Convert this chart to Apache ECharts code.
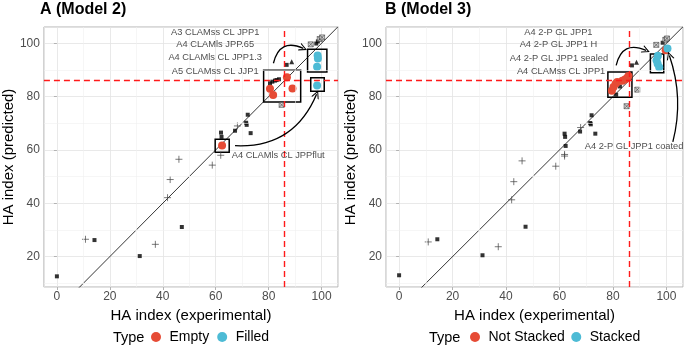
<!DOCTYPE html>
<html>
<head>
<meta charset="utf-8">
<script src="https://cdn.jsdelivr.net/npm/echarts@6/dist/echarts.min.js"></script>
<style>
  html, body { margin: 0; padding: 0; background: #fff; }
  #chart { width: 685px; height: 347px; }
</style>
</head>
<body>
<div id="chart"></div>
<script>
// ---- data ----
var threshold = 86;
var xTicks = [0, 20, 40, 60, 80, 100];
var minorTicks = [10, 30, 50, 70, 90];

// panel A (Model 2)
var aSquares = [[0,12.6],[14.2,26.2],[31.3,20.2],[47.2,31.1],[62.0,66.5],[62.2,64.9],[67.3,67.2],[72.1,73.2],[71.5,70.2],[71.7,69.4],[73.2,66.3],[86.8,91.9],[80.5,85.0],[81.4,85.6],[82.4,86.0],[83.0,86.2],[83.9,86.5],[98.0,99.9],[98.6,100.7]];
var aPlus = [[10.8,26.5],[37.2,24.6],[41.8,42.1],[42.8,48.9],[46.1,56.5],[58.7,54.3],[61.9,58.0],[68.2,69.0]];
var aTriangles = [[88.7,93.1]];
var aCrossed = [[84.9,76.9],[95.9,99.6],[99.3,101.6],[100.2,102.2]];
var aEmpty = [[62.4,61.7],[80.5,82.9],[81.7,80.6],[86.9,87.3],[89.0,83.0]];
var aFilled = [[98.5,95.4],[98.6,94.3],[98.3,91.2],[98.3,84.2]];
var aLabels = [[59.8,104.1,'A3 CLAMss CL JPP1'],[59.8,99.6,'A4 CLAMls JPP.65'],[59.8,94.6,'A4 CLAMls CL JPP1.3'],[59.8,89.6,'A5 CLAMss CL JJP1'],[83.6,57.9,'A4 CLAMls CL JPPflut']];
var aBoxes = [[59.8,64.0,65.1,59.1],[78.1,89.9,92.1,78.0],[94.7,97.8,102.0,89.2],[95.9,87.1,101.0,82.0]];
var aArrows = [[81.8,92.5,93.1,98.1,0.6],[67.3,61.6,98.1,80.9,-0.35]];

// panel B (Model 3)
var bSquares = [[0,13.0],[14.3,26.5],[31.2,20.5],[47.3,31.2],[61.9,66.1],[62.1,64.9],[62.3,61.5],[67.7,66.9],[72.0,73.0],[71.5,70.1],[71.7,69.6],[73.4,66.1],[87.1,91.7],[81.2,80.7],[82.6,83.8],[98.6,100.2]];
var bPlus = [[10.9,25.5],[37.1,23.7],[42.1,41.3],[42.9,48.1],[46.0,55.9],[58.6,53.9],[61.9,57.7],[61.9,58.3],[67.9,68.4]];
var bTriangles = [[88.8,92.9]];
var bCrossed = [[89.1,82.6],[85.1,76.4],[96.2,99.4],[99.6,101.3],[100.2,101.8]];
var bNotStacked = [[79.6,82.2],[80.2,83.6],[81.0,84.8],[81.6,85.5],[83.5,85.9],[84.5,86.4],[85.3,87.0],[85.8,87.7],[99.7,97.4]];
var bStacked = [[100.4,98.0],[96.8,95.3],[96.3,93.6],[96.7,92.3],[97.3,91.0]];
var bLabels = [[59.6,103.9,'A4 2-P GL JPP1'],[59.6,99.4,'A4 2-P GL JPP1 H'],[59.8,94.4,'A4 2-P GL JPP1 sealed'],[60.6,89.4,'A4 CLAMss CL JPP1'],[87.9,61.5,'A4 2-P GL JPP1 coated']];
var bBoxes = [[78.1,89.2,87.1,79.8],[94.0,96.0,99.0,88.9]];
var bArrows = [[81.2,91.7,92.4,97.3,0.6],[102.4,63.0,101.1,95.4,-0.15]];

var RED = '#E64B35', CYAN = '#4DBBD5';
var FONT = 'Liberation Sans, Arial, sans-serif';
var plusPath = 'path://M0,5L10,5M5,0L5,10';
var crossPath = 'path://M0,0L10,0L10,10L0,10Z M0,0L10,10 M10,0L0,10';
var chevron = 'path://M0,10L5,0L10,10L8.6,10L5,2.8L1.4,10Z';

var chart = echarts.init(document.getElementById('chart'));

function xAxisFor(i) {
    return {
        type: 'value', gridIndex: i, min: -4.9, max: 106.2,
        name: 'HA index (experimental)', nameLocation: 'middle', nameGap: 15,
        nameTextStyle: { fontSize: 15, color: '#000' },
        axisLine: { show: false },
        axisTick: { show: true, length: 3, lineStyle: { color: '#b3b3b3' } },
        axisLabel: { fontSize: 12, color: '#4d4d4d', margin: 4, showMinLabel: false, showMaxLabel: false },
        splitLine: { show: true, lineStyle: { color: '#e3e3e3', width: 0.8 } }
    };
}
function yAxisFor(i) {
    return {
        type: 'value', gridIndex: i, min: 8.6, max: 106.1,
        name: 'HA index (predicted)', nameLocation: 'middle', nameGap: 27,
        nameTextStyle: { fontSize: 15, color: '#000' },
        axisLine: { show: false },
        axisTick: { show: true, length: 3, lineStyle: { color: '#b3b3b3' } },
        axisLabel: { fontSize: 12, color: '#4d4d4d', margin: 4, showMinLabel: false, showMaxLabel: false },
        splitLine: { show: true, lineStyle: { color: '#e3e3e3', width: 0.8 } }
    };
}

function panelSeries(i, d) {
    var ax = { xAxisIndex: i, yAxisIndex: i };
    var guides = [];
    minorTicks.forEach(function (v) {
        guides.push({ xAxis: v, lineStyle: { color: '#f0f0f0', width: 0.6, type: 'solid' } });
        guides.push({ yAxis: v, lineStyle: { color: '#f0f0f0', width: 0.6, type: 'solid' } });
    });
    guides.push({ xAxis: threshold, lineStyle: { color: '#ff1a1a', width: 1.4, type: [6, 4] } });
    guides.push({ yAxis: threshold, lineStyle: { color: '#ff1a1a', width: 1.4, type: [6, 4] } });

    return [
        Object.assign({
            type: 'line', data: [], silent: true, z: 1,
            markLine: { silent: true, symbol: 'none', label: { show: false }, animation: false, data: guides }
        }, ax),
        Object.assign({
            type: 'line', data: [[-4.9,-4.9],[106.2,106.2]], showSymbol: false, silent: true, clip: true, z: 2,
            lineStyle: { color: '#000', width: 0.8 }
        }, ax),
        Object.assign({
            type: 'scatter', data: [], silent: true,
            markArea: { silent: true, itemStyle: { color: 'rgba(0,0,0,0)', borderColor: '#000', borderWidth: 1.5 },
                data: d.boxes.map(function (b) { return [{ coord: [b[0], b[1]] }, { coord: [b[2], b[3]] }]; }) }
        }, ax),
        Object.assign({ type: 'scatter', data: d.squares, symbol: 'rect', symbolSize: 4, itemStyle: { color: '#000' }, z: 3 }, ax),
        Object.assign({ type: 'scatter', data: d.plus, symbol: plusPath, symbolSize: 7, itemStyle: { color: 'none', borderColor: '#444', borderWidth: 0.9 }, z: 3 }, ax),
        Object.assign({ type: 'scatter', data: d.triangles, symbol: 'triangle', symbolSize: 5, itemStyle: { color: '#000' }, z: 3 }, ax),
        Object.assign({ type: 'scatter', data: d.crossed, symbol: crossPath, symbolSize: 5, itemStyle: { color: '#ccc', borderColor: '#333', borderWidth: 0.7 }, z: 3 }, ax),
        Object.assign({ type: 'scatter', name: d.names[0], data: d.red, symbol: 'circle', symbolSize: 8, itemStyle: { color: RED, opacity: 1 }, z: 4 }, ax),
        Object.assign({ type: 'scatter', name: d.names[1], data: d.cyan, symbol: 'circle', symbolSize: 8, itemStyle: { color: CYAN, opacity: 1 }, z: 4 }, ax),
        Object.assign({
            type: 'lines', coordinateSystem: 'cartesian2d', silent: true, z: 5,
            symbol: ['none', chevron], symbolSize: [0, 8],
            lineStyle: { color: '#000', width: 1.3, opacity: 1 },
            data: d.arrows.map(function (a) {
                return { coords: [[a[0], a[1]], [a[2], a[3]]], lineStyle: { curveness: a[4] } };
            })
        }, ax),
        Object.assign({
            type: 'scatter', data: d.labels, symbolSize: 0, silent: true, z: 6,
            label: { show: true, position: 'inside', fontSize: 9.3, color: '#1a1a1a',
                formatter: function (p) { return p.value[2]; } }
        }, ax)
    ];
}

var series = panelSeries(0, { squares: aSquares, plus: aPlus, triangles: aTriangles, crossed: aCrossed,
        red: aEmpty, cyan: aFilled, labels: aLabels, boxes: aBoxes, arrows: aArrows, names: ['Empty', 'Filled'] })
    .concat(panelSeries(1, { squares: bSquares, plus: bPlus, triangles: bTriangles, crossed: bCrossed,
        red: bNotStacked, cyan: bStacked, labels: bLabels, boxes: bBoxes, arrows: bArrows, names: ['Not Stacked', 'Stacked'] }));

option = {
    animation: false,
    backgroundColor: '#fff',
    textStyle: { fontFamily: FONT },
    title: [
        { text: 'A (Model 2)', left: 35, top: -3, textStyle: { fontSize: 16, fontWeight: 'bold', color: '#000' } },
        { text: 'B (Model 3)', left: 380, top: -3, textStyle: { fontSize: 16, fontWeight: 'bold', color: '#000' } }
    ],
    grid: [
        { left: 42, top: 27, width: 296, height: 260, show: true, borderColor: '#b3b3b3', borderWidth: 1 },
        { left: 386, top: 27, width: 297, height: 260, show: true, borderColor: '#b3b3b3', borderWidth: 1 }
    ],
    xAxis: [xAxisFor(0), xAxisFor(1)],
    yAxis: [yAxisFor(0), yAxisFor(1)],
    legend: [
        { data: ['Empty', 'Filled'], left: 151, top: 330, padding: 0, icon: 'circle', itemWidth: 17, itemHeight: 10, itemGap: 8,
          textStyle: { fontSize: 14, color: '#000' } },
        { data: ['Not Stacked', 'Stacked'], left: 470, top: 330, padding: 0, icon: 'circle', itemWidth: 17, itemHeight: 10, itemGap: 6.5,
          textStyle: { fontSize: 14, color: '#000' } }
    ],
    graphic: [
        { type: 'text', left: 113, top: 330, style: { text: 'Type', fontSize: 14.5, fill: '#000', fontFamily: FONT } },
        { type: 'text', left: 429, top: 330, style: { text: 'Type', fontSize: 14.5, fill: '#000', fontFamily: FONT } }
    ],
    series: series
};
chart.setOption(option);
</script>
</body>
</html>
